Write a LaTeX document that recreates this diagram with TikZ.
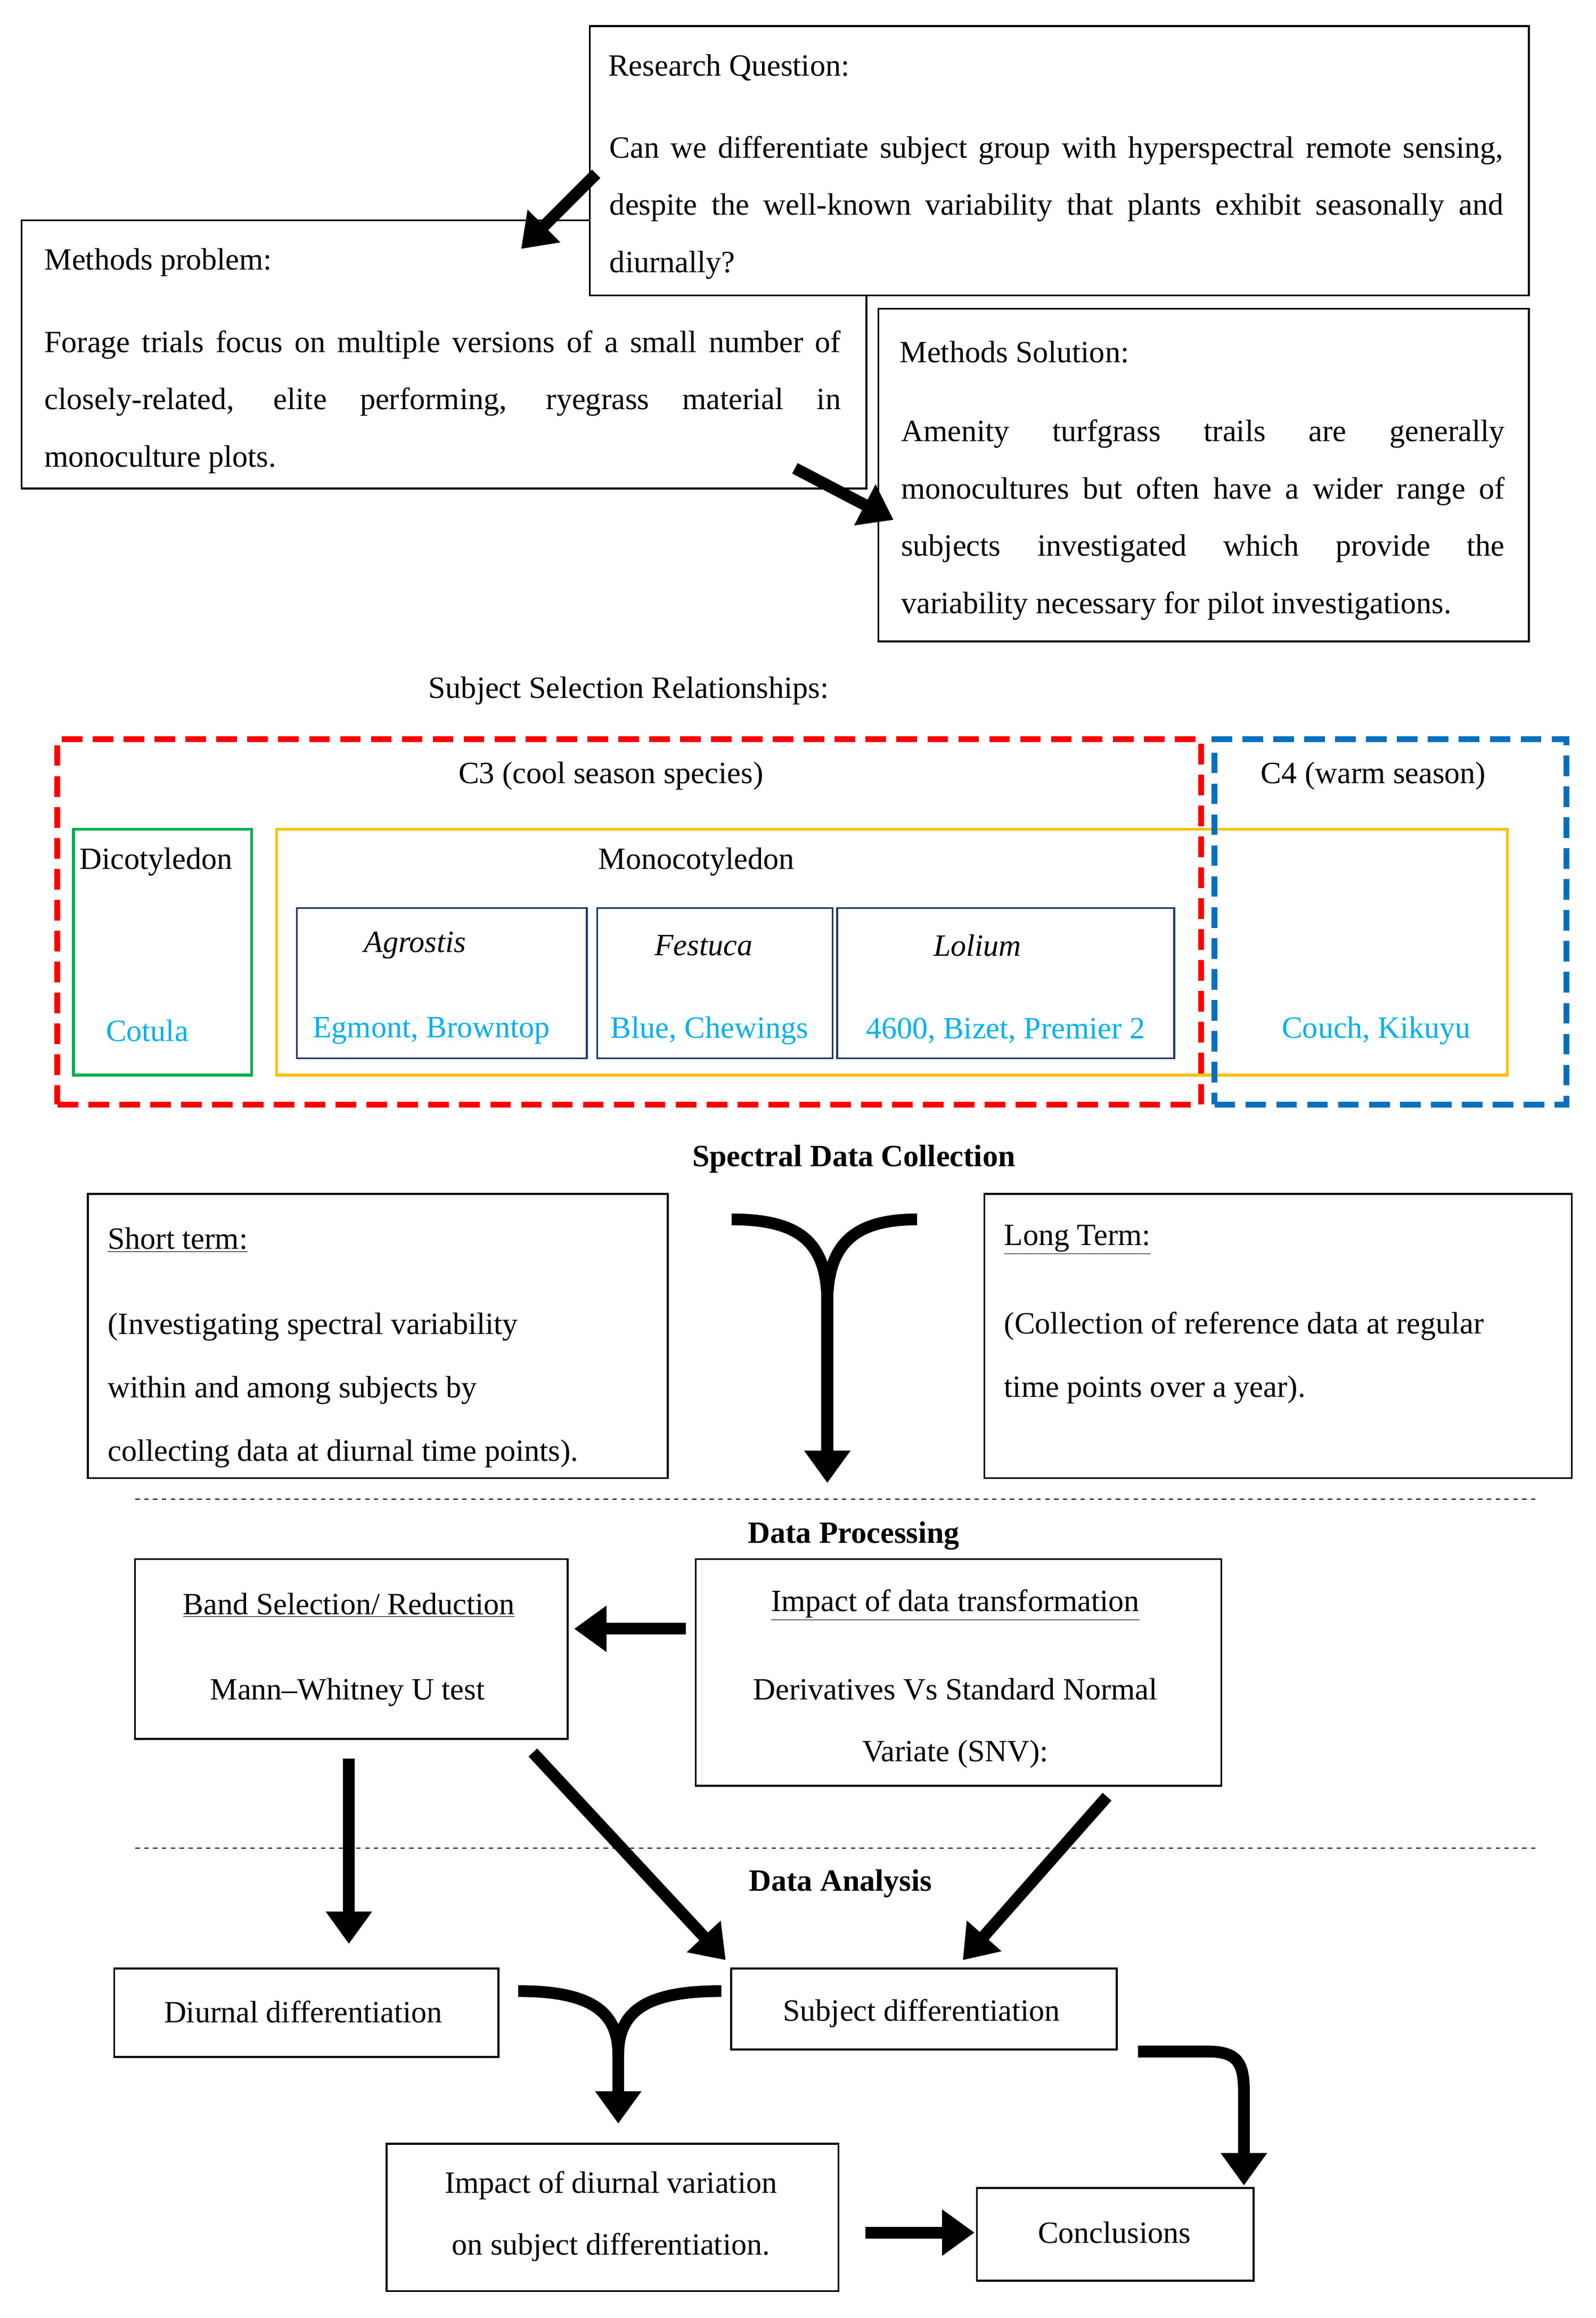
\documentclass[tikz,border=0pt]{standalone}
\usepackage{fontspec}
\setmainfont{Liberation Serif}
\usetikzlibrary{arrows.meta}
\definecolor{cy}{RGB}{0,176,240}
\definecolor{org}{RGB}{255,192,0}
\definecolor{grn}{RGB}{0,176,80}
\definecolor{rd}{RGB}{255,0,0}
\definecolor{bl}{RGB}{0,112,192}
\definecolor{nv}{RGB}{32,56,100}
\newcommand{\jl}[2]{\makebox[#1][s]{#2}}
\begin{document}
\begin{tikzpicture}[x=1pt,y=-1pt,
 box/.style={draw,line width=1.3pt,anchor=north west,inner sep=0pt},
 txt/.style={anchor=west,inner sep=0pt,font=\fontsize{21}{39}\selectfont,align=left},
 lbl/.style={inner sep=0pt,font=\fontsize{21}{25}\selectfont},
 big/.style={line width=8pt,-{Triangle[length=22pt,width=30pt]}},
 thick8/.style={line width=8pt}]
\useasboundingbox (0,0) rectangle (1084,1574);
\fill[white] (0,0) rectangle (1084,1574);
% top boxes
\node[box,fill=white,minimum width=574,minimum height=182] (mp) at (14,149) {};
\node[lbl,anchor=west] (mpt) at (30,178) {Methods problem:};
\node[txt] (mpb) at (30,273) {\jl{541pt}{Forage trials focus on multiple versions of a small number of}\\ \jl{541pt}{closely-related, elite performing, ryegrass material in}\\ monoculture plots.};
\node[box,fill=white,minimum width=638,minimum height=183] (rq) at (400,17) {};
\node[lbl,anchor=west] (rqt) at (413,46) {Research Question:};
\node[txt] (rqb) at (414,141) {\jl{607pt}{Can we differentiate subject group with hyperspectral remote sensing,}\\ \jl{607pt}{despite the well-known variability that plants exhibit seasonally and}\\ diurnally?};
\node[box,fill=white,minimum width=442,minimum height=226] (ms) at (596,209) {};
\node[lbl,anchor=west] (mst) at (611,239) {Methods Solution:};
\node[txt] (msb) at (612,353) {\jl{410pt}{Amenity turfgrass trails are generally}\\ \jl{410pt}{monocultures but often have a wider range of}\\ \jl{410pt}{subjects investigated which provide the}\\ variability necessary for pilot investigations.};
\coordinate (a1s) at (405,118); \coordinate (a1e) at (354,169);
\draw[big] (a1s) -- (a1e);
\coordinate (a2s) at (540,318); \coordinate (a2e) at (607,353);
\draw[big] (a2s) -- (a2e);
% subject selection
\node[lbl] (ssr) at (427,469) {Subject Selection Relationships:};
\node[box,draw=org,line width=2pt,minimum width=836,minimum height=167] (mono) at (187,562) {};
\node[box,draw=grn,line width=2pt,minimum width=121,minimum height=167] (dico) at (49,562) {};
\node[box,draw=rd,dashed,dash pattern=on 14pt off 7pt,line width=4pt,minimum width=777,minimum height=248] (c3) at (37,500) {};
\node[box,draw=bl,dashed,dash pattern=on 14pt off 7pt,line width=4pt,minimum width=239,minimum height=248] (c4) at (823,500) {};
\node[lbl] (c3t) at (415,527) {C3 (cool season species)};
\node[lbl] (c4t) at (933,527) {C4 (warm season)};
\node[lbl] (dt) at (106,585) {Dicotyledon};
\node[lbl,text=cy] (cot) at (100,700) {Cotula};
\node[lbl] (mt) at (473,585) {Monocotyledon};
\node[box,draw=nv,minimum width=197,minimum height=102] (ag) at (201,616) {};
\node[box,draw=nv,minimum width=160,minimum height=102] (fe) at (405,616) {};
\node[box,draw=nv,minimum width=229,minimum height=102] (lo) at (568,616) {};
\node[lbl] (agt) at (282,642) {\textit{Agrostis}};
\node[lbl] (fet) at (478,642) {\textit{Festuca}};
\node[lbl] (lot) at (664,642) {\textit{Lolium}};
\node[lbl,text=cy] (agc) at (293,700) {Egmont, Browntop};
\node[lbl,text=cy] (fec) at (482,700) {Blue, Chewings};
\node[lbl,text=cy] (loc) at (683,700) {4600, Bizet, Premier 2};
\node[lbl,text=cy] (kk) at (935,700) {Couch, Kikuyu};
% spectral
\node[lbl,font=\fontsize{21}{25}\selectfont\bfseries] (sdc) at (580,787) {Spectral Data Collection};
\node[box,minimum width=394,minimum height=193] (st) at (59,810) {};
\node[lbl,anchor=west] (stt) at (73,842) {\underline{Short term:}};
\node[txt,font=\fontsize{21}{43}\selectfont] (stb) at (73,944) {(Investigating spectral variability\\ within and among subjects by\\ collecting data at diurnal time points).};
\node[box,minimum width=399,minimum height=193] (lt) at (668,810) {};
\node[lbl,anchor=west] (ltt) at (682,842) {\underline{Long Term:}};
\node[txt,font=\fontsize{21}{43}\selectfont] (ltb) at (682,922) {(Collection of reference data at regular\\ time points over a year).};
\coordinate (y1l) at (497,828); \coordinate (y1r) at (623,828); \coordinate (y1m) at (562,885); \coordinate (y1e) at (562,1007);
\draw[thick8] (y1l) .. controls (545,828) and (562,845) .. (y1m);
\draw[thick8] (y1r) .. controls (580,828) and (562,845) .. (y1m);
\draw[big] (562,870) -- (y1e);
\coordinate (d1a) at (92,1018); \coordinate (d1b) at (1043,1018);
\draw[dashed,line width=0.8pt] (d1a) -- (d1b);
\node[lbl,font=\fontsize{21}{25}\selectfont\bfseries] (dp) at (580,1043) {Data Processing};
\node[box,minimum width=294,minimum height=122] (bs) at (91,1058) {};
\node[lbl] (bst) at (237,1090) {\underline{Band Selection/ Reduction}};
\node[lbl] (bsb) at (236,1149) {Mann–Whitney U test};
\node[box,minimum width=357,minimum height=154] (it) at (472,1058) {};
\node[lbl] (itt) at (649,1090) {\underline{Impact of data transformation}};
\node[lbl,align=center,font=\fontsize{21}{42}\selectfont] (itb) at (649,1170) {Derivatives Vs Standard Normal\\ Variate (SNV):};
\coordinate (a3s) at (466,1106); \coordinate (a3e) at (390,1106);
\draw[big] (a3s) -- (a3e);
\coordinate (d2a) at (92,1255); \coordinate (d2b) at (1043,1255);
\draw[dashed,line width=0.8pt] (d2a) -- (d2b);
\node[lbl,font=\fontsize{21}{25}\selectfont\bfseries] (da) at (571,1279) {Data Analysis};
\node[box,minimum width=261,minimum height=60] (dd) at (77,1336) {};
\node[lbl] (ddt) at (206,1366) {Diurnal differentiation};
\node[box,minimum width=262,minimum height=55] (sd) at (496,1336) {};
\node[lbl] (sdt) at (626,1367) {Subject differentiation};
\draw[big] (237,1194) -- (237,1320);
\draw[big] (362,1190) -- (493,1331);
\draw[big] (752,1220) -- (654,1331);
\node[box,minimum width=307,minimum height=100] (id) at (262,1455) {};
\node[lbl,align=center,font=\fontsize{21}{42}\selectfont] (idt) at (415,1505) {Impact of diurnal variation\\ on subject differentiation.};
\node[box,minimum width=188,minimum height=63] (cc) at (663,1485) {};
\node[lbl] (cct) at (757,1516) {Conclusions};
\draw[thick8] (352,1352) .. controls (400,1352) and (420,1365) .. (420,1395);
\draw[thick8] (490,1352) .. controls (440,1352) and (420,1365) .. (420,1395);
\draw[big] (420,1385) -- (420,1442);
\draw[big] (588,1516) -- (662,1516);
\draw[big] (773,1393) -- (820,1393) .. controls (840,1393) and (845,1400) .. (845,1420) -- (845,1484);
\end{tikzpicture}
\end{document}
